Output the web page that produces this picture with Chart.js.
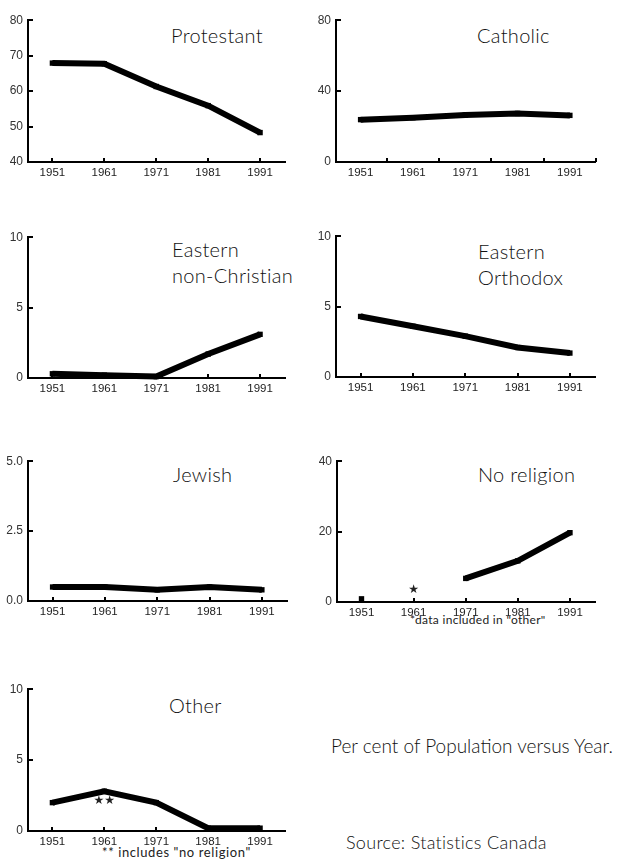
<!DOCTYPE html>
<html>
<head>
<meta charset="utf-8">
<script src="https://cdn.jsdelivr.net/npm/chart.js@4.4.1/dist/chart.umd.min.js"></script>
<style>
  body { margin: 0; background: #fff; }
  #page { position: relative; width: 620px; height: 859px; overflow: hidden; }
  canvas { position: absolute; }
  .txt { position: absolute; font-family: Lato, "Noto Sans", sans-serif; font-weight: 300; color: #111; white-space: nowrap; }
  .title { font-size: 20px; line-height: 26px; letter-spacing: 0.3px; }
  .note { font-weight: 400; color: #222; }
</style>
</head>
<body>
<div id="page">
  <div class="txt title" style="left:171px;top:22px">Protestant</div>
  <div class="txt title" style="left:477px;top:22px">Catholic</div>
  <div class="txt title" style="left:172px;top:236px">Eastern<br>non-Christian</div>
  <div class="txt title" style="left:478px;top:238px">Eastern<br>Orthodox</div>
  <div class="txt title" style="left:173px;top:461px">Jewish</div>
  <div class="txt title" style="left:478px;top:461px">No religion</div>
  <div class="txt title" style="left:169px;top:692px">Other</div>
  <div class="txt note" style="left:410px;top:614px;font-size:12px;line-height:12px;letter-spacing:0.3px">*data included in "other"</div>
  <div class="txt note" style="left:102px;top:846px;font-size:13px;line-height:13px;letter-spacing:0.6px">** includes "no religion"</div>
  <div class="txt" style="left:331px;top:736px;font-size:19px;line-height:19px">Per cent of Population versus Year.</div>
  <div class="txt" style="left:346px;top:833px;font-size:18px;line-height:18px;letter-spacing:0.3px">Source: Statistics Canada</div>
</div>
<script>
// census years
const years = [1951, 1961, 1971, 1981, 1991];

// per cent of population
const protestant = [67.9, 67.7, 61.3, 55.9, 48.3];
const catholic = [23.9, 25.0, 26.5, 27.4, 26.3];
const easternNonChristian = [0.3, 0.2, 0.1, 1.7, 3.1];
const easternOrthodox = [4.3, 3.6, 2.9, 2.1, 1.7];
const jewish = [0.5, 0.5, 0.4, 0.5, 0.4];
const noReligion = [0.9, null, 6.7, 11.7, 19.7];
const other = [2.0, 2.8, 2.0, 0.2, 0.2];

// y tick labels
const protestantTicks = [40, 50, 60, 70, 80];
const catholicTicks = [0, 40, 80];
const tenTicks = [0, 5, 10];
const jewishTicks = [0, 2.5, 5];
const noReligionTicks = [0, 20, 40];

// small tick marks on the x axis
const midYears = [1956, 1966, 1976, 1986, 1996];

// footnote stars
const noReligionStars = [{ x: 1961, y: 3.4, text: '\u2605' }];
const otherStars = [{ x: 1961, y: 2.1, text: '\u2605\u2605' }];

const panels = [
  { data: protestant, ticks: protestantTicks, x0: 28, x1: 285, top: 16, bot: 162, xt: years },
  { data: catholic, ticks: catholicTicks, x0: 336, x1: 595, top: 16, bot: 162, xt: midYears },
  { data: easternNonChristian, ticks: tenTicks, x0: 28, x1: 285, top: 233, bot: 378, xt: years },
  { data: easternOrthodox, ticks: tenTicks, x0: 336, x1: 595, top: 232, bot: 377, xt: years },
  { data: jewish, ticks: jewishTicks, x0: 28, x1: 287, top: 457, bot: 601, xt: years, fixed: 1 },
  { data: noReligion, ticks: noReligionTicks, x0: 337, x1: 595, top: 457, bot: 602, xt: years, stars: noReligionStars },
  { data: other, ticks: tenTicks, x0: 28, x1: 285, top: 685, bot: 831, xt: years, stars: otherStars }
];

const xFont = { family: '"Liberation Sans", Arial, sans-serif', size: 11.5 };
const yFont = { family: '"Liberation Sans", Arial, sans-serif', size: 12 };

const innerTicks = {
  id: 'innerTicks',
  afterDraw(chart, args, opts) {
    const ctx = chart.ctx;
    const x = chart.scales.x, y = chart.scales.y;
    ctx.save();
    ctx.strokeStyle = '#000';
    ctx.lineWidth = 2;
    opts.yt.forEach(v => {
      const py = Math.round(y.getPixelForValue(v));
      ctx.beginPath();
      ctx.moveTo(x.left, py);
      ctx.lineTo(x.left + 5, py);
      ctx.stroke();
    });
    opts.xt.forEach(v => {
      const px = Math.round(x.getPixelForValue(v));
      ctx.beginPath();
      ctx.moveTo(px, y.bottom);
      ctx.lineTo(px, y.bottom - 4);
      ctx.stroke();
    });
    ctx.fillStyle = '#222';
    ctx.font = '12px "DejaVu Sans", sans-serif';
    ctx.textAlign = 'center';
    ctx.textBaseline = 'middle';
    (opts.stars || []).forEach(s => {
      ctx.fillText(s.text, x.getPixelForValue(s.x), y.getPixelForValue(s.y));
    });
    ctx.restore();
  }
};

const page = document.getElementById('page');
const yw = 30, padTop = 8, padR = 5, xh = 22;

panels.forEach(p => {
  const c = document.createElement('canvas');
  const w = yw + (p.x1 - p.x0) + padR;
  const h = padTop + (p.bot - p.top) + xh;
  c.width = w;
  c.height = h;
  c.style.left = (p.x0 - yw) + 'px';
  c.style.top = (p.top - padTop) + 'px';
  page.appendChild(c);

  new Chart(c.getContext('2d'), {
    type: 'line',
    data: {
      datasets: [{
        data: years.map((yr, i) => ({ x: yr, y: p.data[i] })),
        borderColor: '#000',
        backgroundColor: '#000',
        borderWidth: 6,
        pointStyle: 'rect',
        pointRadius: 3.8,
        pointBorderWidth: 0,
        spanGaps: false,
        clip: false
      }]
    },
    options: {
      responsive: false,
      animation: false,
      layout: { padding: { top: padTop, right: padR, left: 0, bottom: 0 } },
      plugins: {
        legend: { display: false },
        tooltip: { enabled: false },
        innerTicks: { yt: p.ticks, xt: p.xt, stars: p.stars }
      },
      scales: {
        x: {
          type: 'linear',
          min: 1946.3,
          max: 1995.8,
          afterBuildTicks: s => { s.ticks = years.map(v => ({ value: v })); },
          afterFit: s => { s.height = xh; },
          grid: { display: false, drawTicks: false },
          border: { color: '#000', width: 2 },
          ticks: { font: xFont, color: '#222', padding: 4, maxRotation: 0, autoSkip: false,
                   callback: v => String(v) }
        },
        y: {
          min: p.ticks[0],
          max: p.ticks[p.ticks.length - 1],
          afterBuildTicks: s => { s.ticks = p.ticks.map(v => ({ value: v })); },
          afterFit: s => { s.width = yw; },
          grid: { display: false, drawTicks: false },
          border: { color: '#000', width: 2 },
          ticks: { font: yFont, color: '#333', padding: 5,
                   callback: v => p.fixed ? v.toFixed(p.fixed) : String(v) }
        }
      }
    },
    plugins: [innerTicks]
  });
});
</script>
</body>
</html>
